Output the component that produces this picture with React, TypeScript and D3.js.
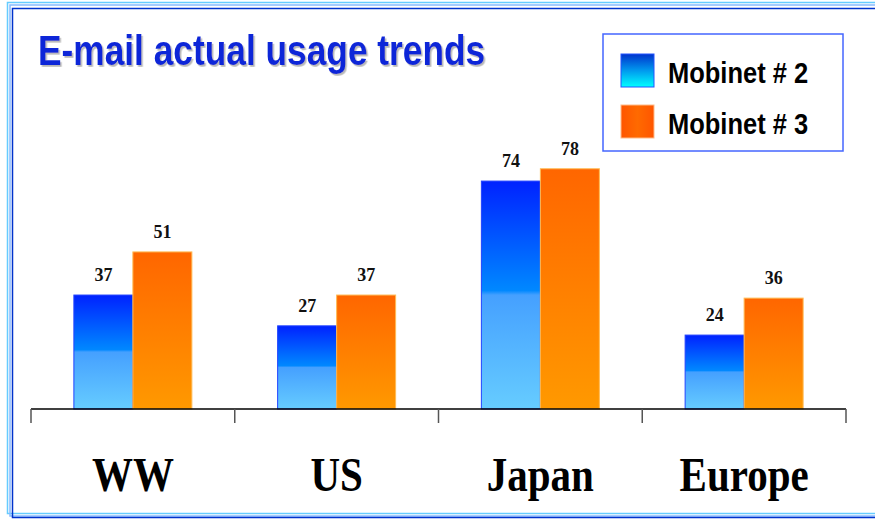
import React from "react";
import * as d3 from "d3";

const categories = ["WW", "US", "Japan", "Europe"];
const seriesNames = ["Mobinet # 2", "Mobinet # 3"];
const mobinet2 = [37, 27, 74, 24];
const mobinet3 = [51, 37, 78, 36];
const title = "E-mail actual usage trends";

const W = 875;
const H = 519;

export default function App() {
  const x = d3.scaleBand<string>().domain(categories).range([31, 846]).padding(0);
  const y = d3.scaleLinear().domain([0, 100]).range([409, 101]);
  const barW = 59;
  const inner = d3
    .scaleBand<string>()
    .domain(seriesNames)
    .range([x.bandwidth() / 2 - barW, x.bandwidth() / 2 + barW])
    .padding(0);
  const seriesValues = [mobinet2, mobinet3];
  const fills = ["url(#gBlue)", "url(#gOrange)"];
  const strokes = ["#2244ff", "#ffbb55"];
  const ticks = [...categories.map((c) => x(c) as number), 846];

  return (
    <svg
      width={W}
      height={H}
      style={{ position: "absolute", left: 0, top: 0, background: "#fff" }}
    >
      <defs>
        <linearGradient id="gBlue" x1="0" y1="0" x2="0" y2="1">
          <stop offset="0" stopColor="#0022ff" />
          <stop offset="0.48" stopColor="#0088ff" />
          <stop offset="0.5" stopColor="#45a0ff" />
          <stop offset="1" stopColor="#66ccff" />
        </linearGradient>
        <linearGradient id="gOrange" x1="0" y1="0" x2="0" y2="1">
          <stop offset="0" stopColor="#ff6600" />
          <stop offset="1" stopColor="#ff9900" />
        </linearGradient>
        <linearGradient id="gLegBlue" x1="0" y1="0" x2="0" y2="1">
          <stop offset="0" stopColor="#0033cc" />
          <stop offset="0.5" stopColor="#0099ee" />
          <stop offset="1" stopColor="#00ffff" />
        </linearGradient>
        <linearGradient id="gLegOrange" x1="0" y1="0" x2="1" y2="0">
          <stop offset="0" stopColor="#ff5500" />
          <stop offset="0.5" stopColor="#ff6a00" />
          <stop offset="1" stopColor="#ff5500" />
        </linearGradient>
        <filter id="shadow" x="-5%" y="-20%" width="110%" height="150%">
          <feDropShadow dx="1.5" dy="1.5" stdDeviation="0.6" floodColor="#999999" floodOpacity="0.7" />
        </filter>
      </defs>

      {/* frame */}
      <rect x={7.5} y={2.5} width={880} height={511} fill="none" stroke="#66ccff" strokeWidth={1.5} />
      <rect x={10} y={5} width={880} height={511} fill="none" stroke="#88bbff" strokeWidth={1.5} />
      <rect x={12.5} y={8.5} width={880} height={509} fill="none" stroke="#0033cc" strokeWidth={1.5} />

      {/* title */}
      <g transform="translate(38,65) scale(1,1.2)">
        <text
          fontFamily="'Liberation Sans', Arial, sans-serif"
          fontWeight="bold"
          fontSize={35.3}
          fill="#1028d8"
          filter="url(#shadow)"
        >
          {title}
        </text>
      </g>

      {/* bars */}
      {categories.map((c, i) => (
        <g key={c} transform={`translate(${x(c)},0)`}>
          {seriesNames.map((s, j) => {
            const v = seriesValues[j][i];
            const bx = inner(s) as number;
            return (
              <g key={s}>
                <rect
                  x={bx}
                  y={y(v)}
                  width={inner.bandwidth()}
                  height={y(0) - y(v)}
                  fill={fills[j]}
                  stroke={strokes[j]}
                  strokeWidth={1}
                />
                <text
                  x={bx + inner.bandwidth() / 2}
                  y={y(v) - 14}
                  textAnchor="middle"
                  fontFamily="'Liberation Serif', 'Times New Roman', serif"
                  fontWeight="bold"
                  fontSize={18}
                  fill="#111"
                >
                  {v}
                </text>
              </g>
            );
          })}
        </g>
      ))}

      {/* axis */}
      <line x1={31} x2={846} y1={409} y2={409} stroke="#000" strokeWidth={1.5} />
      {ticks.map((t, i) => (
        <line key={i} x1={t} x2={t} y1={409} y2={423} stroke="#555" strokeWidth={1.5} />
      ))}
      {categories.map((c) => (
        <g
          key={c}
          transform={`translate(${(x(c) as number) + x.bandwidth() / 2},491) scale(1,1.2)`}
        >
          <text
            textAnchor="middle"
            fontFamily="'Liberation Serif', 'Times New Roman', serif"
            fontWeight="bold"
            fontSize={41}
            fill="#000"
          >
            {c}
          </text>
        </g>
      ))}

      {/* legend */}
      <rect x={603} y={34} width={240} height={117} fill="#fff" stroke="#4466ff" strokeWidth={1.5} />
      {seriesNames.map((s, j) => (
        <g key={s}>
          <rect
            x={621}
            y={54 + j * 51}
            width={33}
            height={33}
            fill={j === 0 ? "url(#gLegBlue)" : "url(#gLegOrange)"}
            stroke={j === 0 ? "#2255ff" : "#ffbb88"}
            strokeWidth={1}
          />
          <g transform={`translate(668,${83 + j * 51}) scale(1,1.14)`}>
            <text
              fontFamily="'Liberation Sans', Arial, sans-serif"
              fontWeight="bold"
              fontSize={25.5}
              fill="#000"
            >
              {s}
            </text>
          </g>
        </g>
      ))}
    </svg>
  );
}
